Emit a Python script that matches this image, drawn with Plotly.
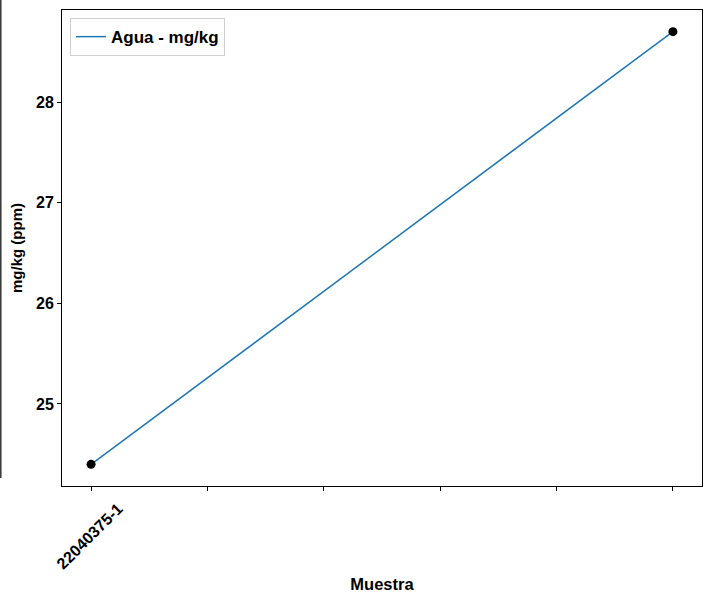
import plotly.graph_objects as go

# Data
x_pos = [0, 1]
values = [24.4, 28.7]
tick_positions = [0, 0.2, 0.4, 0.6, 0.8, 1.0]
tick_labels = ["22040375-1", "", "", "", "", ""]
y_ticks = [25, 26, 27, 28]
series_name = "Agua - mg/kg"

W, H = 709, 593
L, R, T, B = 62, 7, 10, 107
pw = W - L - R
ph = H - T - B

fig = go.Figure()
fig.add_trace(go.Scatter(x=x_pos, y=values, mode="lines", name=series_name,
                         line=dict(color="#1f77b4", width=1.5)))
fig.add_trace(go.Scatter(x=x_pos, y=values, mode="markers", showlegend=False,
                         marker=dict(color="black", size=9)))

font_family = "Liberation Sans, Arial, sans-serif"
fig.update_layout(
    width=W, height=H,
    margin=dict(l=L, r=R, t=T, b=B, autoexpand=False),
    plot_bgcolor="white", paper_bgcolor="white",
    font=dict(family=font_family, size=16, color="black"),
    showlegend=True,
    legend=dict(x=0.0125, y=0.983, xanchor="left", yanchor="top",
                bgcolor="rgba(255,255,255,0.8)", bordercolor="#d0d0d0", borderwidth=1,
                tracegroupgap=0, itemwidth=30,
                font=dict(size=17, family=font_family, weight="bold")),
    xaxis=dict(range=[-0.05, 1.05], tickmode="array", tickvals=tick_positions,
               ticktext=tick_labels, tickangle=-45, ticks="outside", ticklen=4,
               ticklabelshift=27, ticklabelstandoff=2,
               tickcolor="black", showgrid=False, zeroline=False, automargin=False,
               showline=True, linecolor="black", linewidth=1, mirror=True,
               tickfont=dict(size=16, weight="bold"),
               title=dict(text="<b>Muestra</b>", font=dict(size=16.5), standoff=8)),
    yaxis=dict(range=[24.185, 28.915], tickmode="array", tickvals=y_ticks,
               ticks="outside", ticklen=4, tickcolor="black", showgrid=False,
               zeroline=False, showline=True, linecolor="black", linewidth=1,
               mirror=True, tickfont=dict(size=16, weight="bold"), automargin=False,
               title=dict(text="<b>mg/kg (ppm)</b>", font=dict(size=15), standoff=9)),
)

# stray vertical line at the left edge of the image
x_edge = (0.8 - L) / pw
fig.add_shape(type="line", xref="paper", yref="paper",
              x0=x_edge, x1=x_edge, y0=(H - B - 478) / ph, y1=(H - B) / ph,
              line=dict(color="#333333", width=1.5))

fig.write_html(
    "out.html",
    config={"displayModeBar": False},
    post_script="document.body.style.margin='0';document.body.style.overflow='hidden';",
)
